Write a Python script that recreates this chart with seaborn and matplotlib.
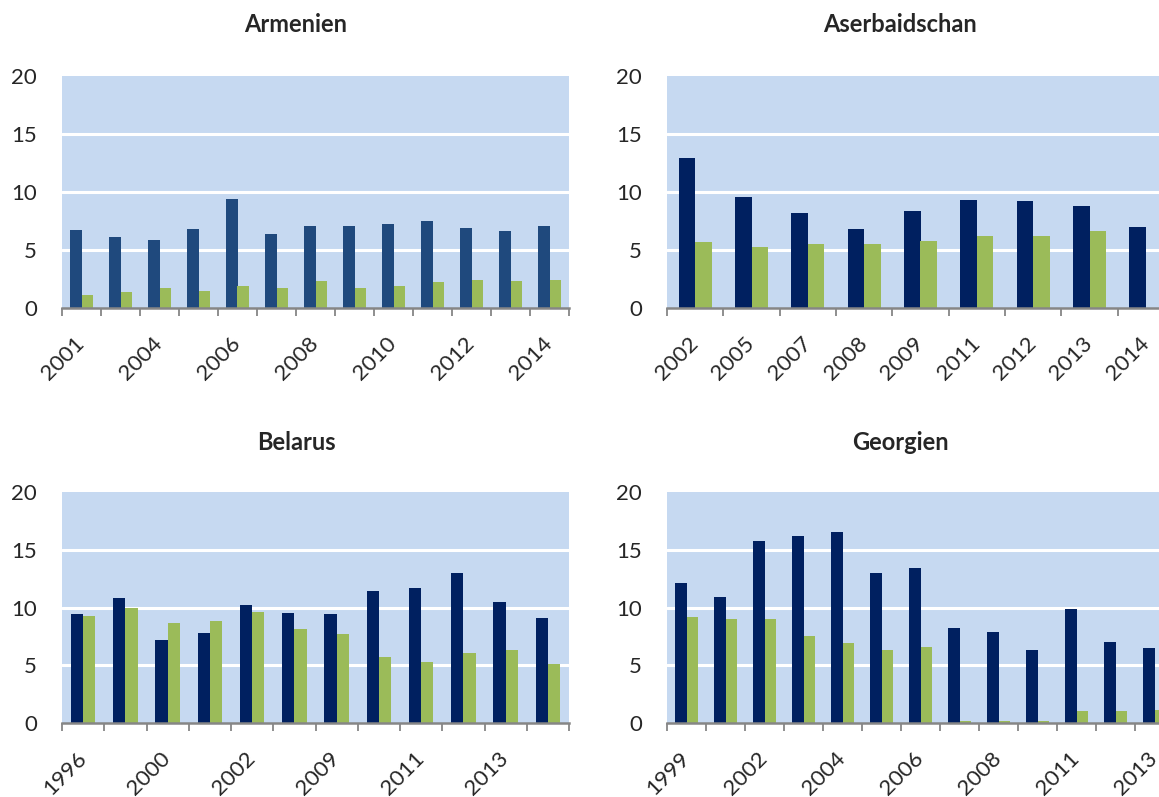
import numpy as np
import pandas as pd
import matplotlib
matplotlib.use("Agg")
import matplotlib.pyplot as plt
import matplotlib.transforms as mtransforms
import seaborn as sns

sns.set_theme(style="white")
plt.rcParams["font.family"] = ["Lato", "DejaVu Sans"]

# ---- data -------------------------------------------------------------
arm_years = ["2001", "2003", "2004", "2005", "2006", "2007", "2008",
             "2009", "2010", "2011", "2012", "2013", "2014"]
arm_a = [6.7, 6.1, 5.9, 6.8, 9.4, 6.4, 7.1, 7.1, 7.2, 7.5, 6.9, 6.6, 7.1]
arm_b = [1.1, 1.4, 1.7, 1.5, 1.9, 1.7, 2.3, 1.7, 1.9, 2.2, 2.4, 2.3, 2.4]

aze_years = ["2002", "2005", "2007", "2008", "2009", "2011", "2012", "2013", "2014"]
aze_a = [12.9, 9.6, 8.2, 6.8, 8.4, 9.3, 9.2, 8.8, 7.0]
aze_b = [5.7, 5.3, 5.5, 5.5, 5.8, 6.2, 6.2, 6.6, np.nan]

blr_years = ["1996", "1998", "2000", "2001", "2002", "2008",
             "2009", "2010", "2011", "2012", "2013", "2014"]
blr_a = [9.4, 10.8, 7.2, 7.8, 10.2, 9.5, 9.4, 11.4, 11.7, 13.0, 10.5, 9.1]
blr_b = [9.3, 10.0, 8.7, 8.8, 9.6, 8.1, 7.7, 5.7, 5.3, 6.1, 6.3, 5.1]

geo_years = ["1999", "2001", "2002", "2003", "2004", "2005", "2006",
             "2007", "2008", "2010", "2011", "2012", "2013"]
geo_a = [12.1, 10.9, 15.8, 16.2, 16.5, 13.0, 13.4, 8.2, 7.9, 6.3, 9.9, 7.0, 6.5]
geo_b = [9.2, 9.0, 9.0, 7.5, 6.9, 6.3, 6.6, 0.15, 0.2, 0.2, 1.0, 1.05, 1.1]

y_ticks = [0, 5, 10, 15, 20]

# ---- styling ----------------------------------------------------------
NAVY = "#002060"
STEEL = "#1F497D"
GREEN = "#9BBB59"
PANEL_BG = "#C6D9F1"
AXIS_GREY = "#868686"

W, H = 1159, 797
fig = plt.figure(figsize=(W / 100, H / 100), dpi=100)
label_shift = mtransforms.ScaledTranslation(7 / 100, 0, fig.dpi_scale_trans)


def px_axes(x0, top, bottom, width=507):
    return fig.add_axes([x0 / W, 1 - bottom / H, width / W, (bottom - top) / H])


def panel(ax, title, title_xy, years, a, b, dark, step=2):
    n = len(years)
    df = pd.DataFrame({
        "Jahr": years * 2,
        "Wert": list(a) + list(b),
        "Reihe": ["A"] * n + ["B"] * n,
    })
    sns.barplot(data=df, x="Jahr", y="Wert", hue="Reihe", order=years,
                hue_order=["A", "B"], palette=[dark, GREEN], width=0.58,
                gap=0, saturation=1, legend=False, ax=ax, zorder=3,
                linewidth=0, edgecolor="none")
    ax.set_facecolor(PANEL_BG)
    ax.set_xlim(-0.5, n - 0.5)
    ax.set_ylim(0, 20)
    ax.set_xlabel("")
    ax.set_ylabel("")

    # white horizontal gridlines
    for v in y_ticks[1:-1]:
        ax.axhline(v, color="white", lw=2.2, zorder=2)

    for s in ["top", "right", "left"]:
        ax.spines[s].set_visible(False)
    ax.spines["bottom"].set_color(AXIS_GREY)
    ax.spines["bottom"].set_linewidth(1.8)
    ax.spines["bottom"].set_zorder(5)

    ax.set_yticks(y_ticks)
    ax.set_yticklabels([str(t) for t in y_ticks], fontsize=16)
    ax.tick_params(axis="y", length=0, pad=18)

    ax.set_xticks(np.arange(0, n, step))
    ax.set_xticklabels(years[::step], fontsize=16, rotation=45,
                       ha="right", va="center", rotation_mode="anchor")
    for lab in ax.get_xticklabels():
        lab.set_transform(lab.get_transform() + label_shift)
    ax.set_xticks(np.arange(-0.5, n, 1.0), minor=True)
    ax.tick_params(axis="x", which="major", length=0, pad=23)
    ax.tick_params(axis="x", which="minor", length=5.5, width=1.3,
                   color=AXIS_GREY, bottom=True)

    fig.text(title_xy[0] / W, 1 - title_xy[1] / H, title, ha="center",
             va="center", fontsize=17, fontweight="bold")


panel(px_axes(62, 76, 308), "Armenien", (296, 25), arm_years, arm_a, arm_b, STEEL)
panel(px_axes(667, 76, 308), "Aserbaidschan", (900, 25), aze_years, aze_a, aze_b,
      NAVY, step=1)
panel(px_axes(62, 492, 723), "Belarus", (296, 443), blr_years, blr_a, blr_b, NAVY)
panel(px_axes(667, 492, 723), "Georgien", (900, 443), geo_years, geo_a, geo_b, NAVY)

fig.savefig("out.png", dpi=100)
